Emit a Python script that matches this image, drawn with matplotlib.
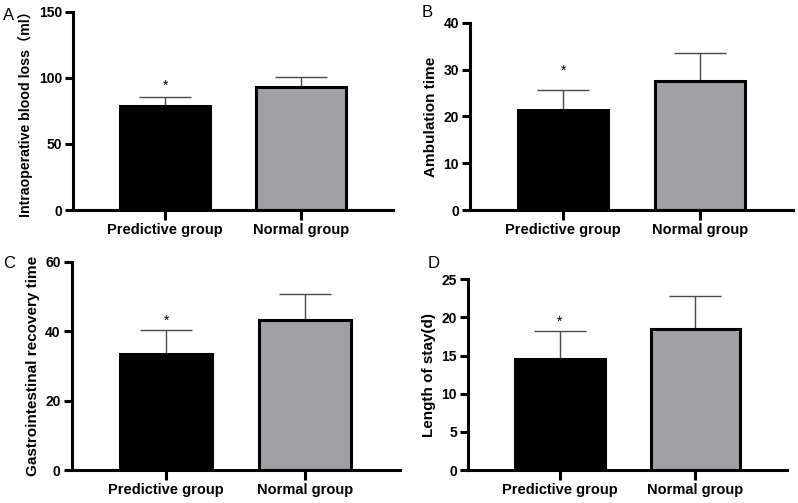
import matplotlib
matplotlib.use("Agg")
import matplotlib.pyplot as plt

plt.rcParams['font.family'] = ['Liberation Sans', 'Noto Sans CJK SC', 'DejaVu Sans']

groups = ["Predictive group", "Normal group"]
bar_colors = ["#000000", "#a1a1a5"]

blood_loss = [79, 93]
blood_loss_sd = [6.5, 8]
ambulation = [21.4, 27.6]
ambulation_sd = [4.2, 6.0]
gi_recovery = [33.5, 43.2]
gi_recovery_sd = [6.8, 7.6]
stay = [14.6, 18.5]
stay_sd = [3.6, 4.3]

panels = [
    ("A", blood_loss, blood_loss_sd, "Intraoperative blood loss（ml）", [0, 50, 100, 150]),
    ("B", ambulation, ambulation_sd, "Ambulation time", [0, 10, 20, 30, 40]),
    ("C", gi_recovery, gi_recovery_sd, "Gastrointestinal recovery time", [0, 20, 40, 60]),
    ("D", stay, stay_sd, "Length of stay(d)", [0, 5, 10, 15, 20, 25]),
]

boxes = [
    [0.0915, 0.5825, 0.401, 0.394],
    [0.589, 0.5825, 0.405, 0.372],
    [0.090, 0.0656, 0.411, 0.414],
    [0.5865, 0.0656, 0.400, 0.379],
]
letter_pos = [(0.004, 0.97), (0.528, 0.975), (0.004, 0.476), (0.536, 0.476)]
star_offset = [3, 9, 2, 2]
label_size = [10.2, 11, 11, 11]

fig = plt.figure(figsize=(7.98, 5.03), dpi=100)

for (letter, vals, sds, ylabel, ticks), box, lp, so, ls in zip(
        panels, boxes, letter_pos, star_offset, label_size):
    ax = fig.add_axes(box)
    x = list(range(len(groups)))
    ax.errorbar(x, vals, yerr=[[0] * len(sds), sds], fmt="none",
                ecolor="#4a4a4a", elinewidth=1.0, capsize=19, capthick=1.0, zorder=1)
    ax.bar(x, vals, width=0.66, color=bar_colors, edgecolor="black",
           linewidth=2.2, zorder=2)
    ax.annotate("*", (x[0], vals[0] + sds[0]), xytext=(0, so), textcoords="offset points",
                ha="center", va="bottom", fontsize=10)

    ax.set_xlim(-0.68, 1.68)
    ax.set_ylim(ticks[0], ticks[-1])
    ax.set_yticks(ticks)
    ax.set_xticks(x)
    ax.set_xticklabels(groups, fontsize=10.5, fontweight="bold")
    ax.set_ylabel(ylabel, fontsize=ls, fontweight="bold", labelpad=4)
    for lab in ax.get_yticklabels():
        lab.set_fontweight("bold")
        lab.set_fontsize(10)

    for side in ["top", "right"]:
        ax.spines[side].set_visible(False)
    for side in ["left", "bottom"]:
        ax.spines[side].set_linewidth(2.2)
    ax.tick_params(axis="both", width=2.2, length=6, pad=2)
    ax.tick_params(axis="x", length=7)

    fig.text(lp[0], lp[1], letter, fontsize=12, ha="left", va="center")

fig.savefig("out.png", dpi=100)
